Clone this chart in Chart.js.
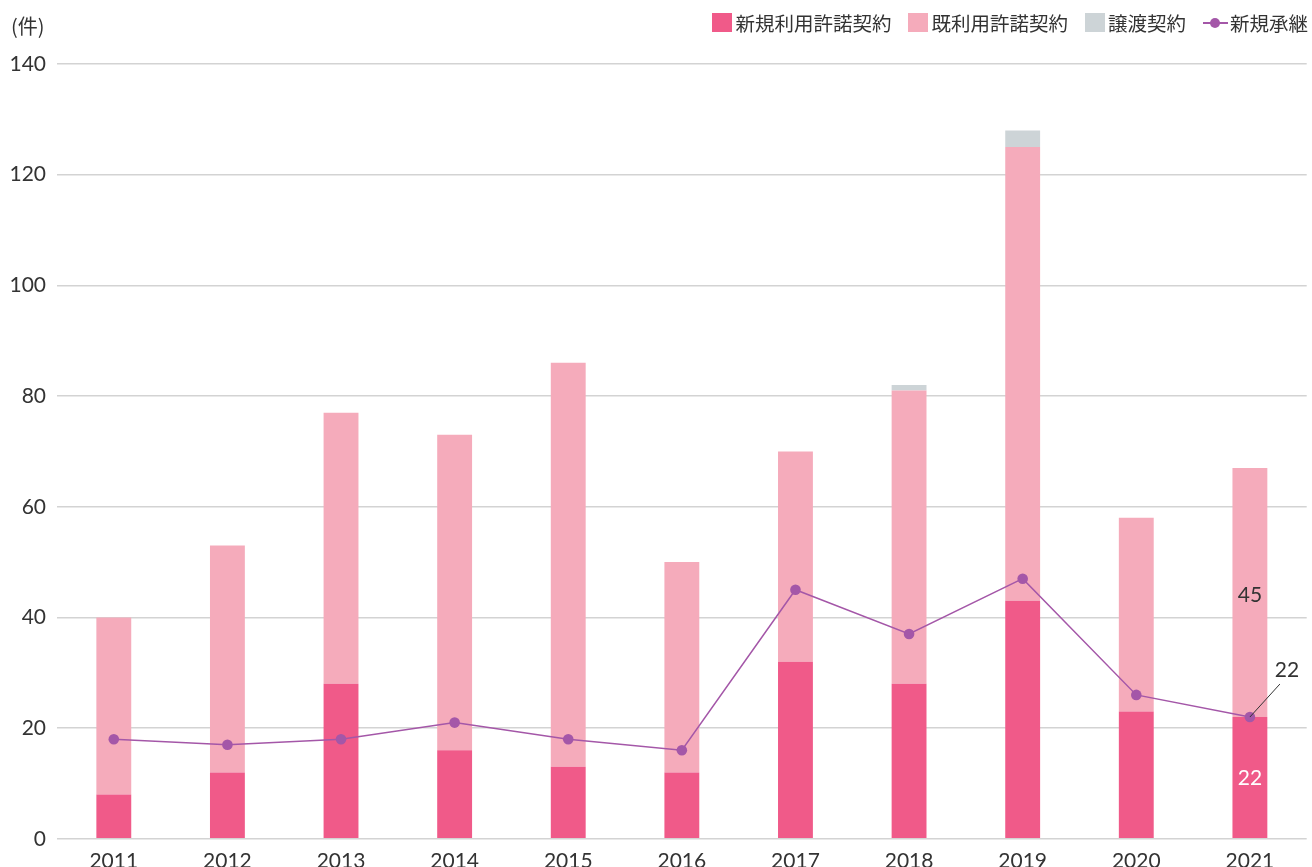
<!DOCTYPE html>
<html lang="ja">
<head>
<meta charset="utf-8">
<title>契約件数の推移</title>
<script src="https://cdn.jsdelivr.net/npm/chart.js@4.4.1/dist/chart.umd.min.js"></script>
<style>
  html, body { margin: 0; padding: 0; background: #fff; overflow: hidden; }
  #wrap { position: relative; width: 1312px; height: 890px; }
  #unit {
    position: absolute; left: 11px; top: 11px;
    font: 20px "Noto Sans CJK JP", sans-serif; color: #333;
  }
  #legend {
    position: absolute; right: 4px; top: 8px;
    display: flex; align-items: center; gap: 17px;
    font: 19.5px "Noto Sans CJK JP", sans-serif; color: #333;
  }
  #legend .item { display: flex; align-items: center; }
  #legend .box { width: 20px; height: 19px; margin-right: 3px; }
  #legend .mark { position: relative; width: 25px; height: 19px; margin-right: 2px; }
  #legend .mark i { position: absolute; left: 0; right: 0; top: 9px; height: 1.5px; }
  #legend .mark b { position: absolute; left: 7px; top: 5px; width: 10px; height: 10px; border-radius: 50%; }
</style>
</head>
<body>
<div id="wrap">
  <canvas id="chart"></canvas>
  <div id="unit">(件)</div>
  <div id="legend"></div>
</div>
<script>
"use strict";

// 年度
var years = ['2011', '2012', '2013', '2014', '2015', '2016', '2017', '2018', '2019', '2020', '2021'];
// 新規利用許諾契約
var newLicense = [8, 12, 28, 16, 13, 12, 32, 28, 43, 23, 22];
// 既利用許諾契約
var existingLicense = [32, 41, 49, 57, 73, 38, 38, 53, 82, 35, 45];
// 譲渡契約
var transfer = [0, 0, 0, 0, 0, 0, 0, 1, 3, 0, 0];
// 新規承継
var newSuccession = [18, 17, 18, 21, 18, 16, 45, 37, 47, 26, 22];
// 縦軸
var yTicks = [0, 20, 40, 60, 80, 100, 120, 140];

var COLOR_NEW = '#f05a89';
var COLOR_EXISTING = '#f5abbb';
var COLOR_TRANSFER = '#cdd4d7';
var COLOR_LINE = '#a457a8';
var COLOR_TEXT = '#333333';
var COLOR_GRID = '#d3d3d3';
var NUM_FONT = 'Lato, "Noto Sans", sans-serif';

// 最終年度の数値ラベルと引き出し線
var valueLabels = {
    id: 'valueLabels',
    afterDatasetsDraw: function (chart) {
        var ctx = chart.ctx;
        var last = years.length - 1;
        var newBar = chart.getDatasetMeta(0).data[last];
        var existingBar = chart.getDatasetMeta(1).data[last];
        var point = chart.getDatasetMeta(3).data[last];

        ctx.save();
        ctx.font = '21px ' + NUM_FONT;
        ctx.textAlign = 'center';
        ctx.textBaseline = 'middle';

        ctx.fillStyle = '#ffffff';
        ctx.fillText(String(newLicense[last]), newBar.x, (newBar.y + newBar.base) / 2 + 1);

        ctx.fillStyle = COLOR_TEXT;
        ctx.fillText(String(existingLicense[last]), existingBar.x, (existingBar.y + existingBar.base) / 2 + 3);

        ctx.strokeStyle = COLOR_TEXT;
        ctx.lineWidth = 1;
        ctx.beginPath();
        ctx.moveTo(point.x, point.y);
        ctx.lineTo(point.x + 30, point.y - 33);
        ctx.stroke();
        ctx.fillText(String(newSuccession[last]), point.x + 37, point.y - 47);
        ctx.restore();
    }
};

var chart = new Chart(document.getElementById('chart'), {
    type: 'bar',
    data: {
        labels: years,
        datasets: [
            { label: '新規利用許諾契約', data: newLicense, backgroundColor: COLOR_NEW, order: 1 },
            { label: '既利用許諾契約', data: existingLicense, backgroundColor: COLOR_EXISTING, order: 1 },
            { label: '譲渡契約', data: transfer, backgroundColor: COLOR_TRANSFER, order: 1 },
            {
                type: 'line', label: '新規承継', data: newSuccession, order: 0,
                borderColor: COLOR_LINE, borderWidth: 1.5,
                pointRadius: 5.3, pointBackgroundColor: COLOR_LINE, pointBorderWidth: 0,
                tension: 0
            }
        ]
    },
    options: {
        responsive: true,
        maintainAspectRatio: false,
        animation: false,
        events: [],
        layout: { padding: { top: 64, right: 1, bottom: 14, left: 0 } },
        datasets: {
            bar: { barPercentage: 0.307, categoryPercentage: 1 }
        },
        plugins: {
            legend: { display: false },
            tooltip: { enabled: false }
        },
        scales: {
            x: {
                stacked: true,
                grid: { display: false },
                border: { display: false },
                ticks: { color: COLOR_TEXT, font: { family: NUM_FONT, size: 21 }, padding: 2, maxRotation: 0 }
            },
            y: {
                stacked: true,
                min: 0,
                max: 140,
                afterBuildTicks: function (scale) {
                    scale.ticks = yTicks.map(function (v) { return { value: v }; });
                },
                afterFit: function (scale) { scale.width = 57; },
                grid: { color: COLOR_GRID, lineWidth: 1.5, drawTicks: false },
                border: { display: false },
                ticks: { color: COLOR_TEXT, font: { family: NUM_FONT, size: 21 }, padding: 11 }
            }
        }
    },
    plugins: [valueLabels]
});

// 凡例
var legend = document.getElementById('legend');
chart.data.datasets.forEach(function (ds) {
    var item = document.createElement('div');
    item.className = 'item';
    var mark = document.createElement('span');
    if (ds.type === 'line') {
        mark.className = 'mark';
        mark.innerHTML = '<i style="background:' + ds.borderColor + '"></i><b style="background:' + ds.borderColor + '"></b>';
    } else {
        mark.className = 'box';
        mark.style.background = ds.backgroundColor;
    }
    var text = document.createElement('span');
    text.textContent = ds.label;
    item.appendChild(mark);
    item.appendChild(text);
    legend.appendChild(item);
});
</script>
</body>
</html>
